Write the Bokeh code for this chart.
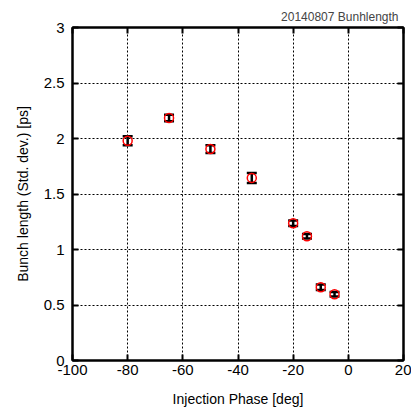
from bokeh.plotting import figure
from bokeh.models import ColumnDataSource, Whisker, LinearAxis, FixedTicker, Range1d
from bokeh.embed import file_html
from bokeh.resources import INLINE

phase = [-80, -65, -50, -35, -20, -15, -10, -5]
bunch_len = [1.98, 2.185, 1.905, 1.645, 1.236, 1.12, 0.66, 0.597]
bunch_err = [0.04, 0.03, 0.035, 0.045, 0.025, 0.02, 0.025, 0.02]
x_ticks = [-100, -80, -60, -40, -20, 0, 20]
x_labels = ["-100", "-80", "-60", "-40", "-20", "0", "20"]
y_ticks = [0, 0.5, 1, 1.5, 2, 2.5, 3]
y_labels = ["0", "0.5", "1", "1.5", "2", "2.5", "3"]

src = ColumnDataSource(dict(
    x=phase, y=bunch_len,
    lo=[v - e for v, e in zip(bunch_len, bunch_err)],
    hi=[v + e for v, e in zip(bunch_len, bunch_err)],
))

FONT = "Liberation Sans"

p = figure(width=411, height=412, output_backend="svg", toolbar_location=None,
           x_range=Range1d(-100, 20), y_range=Range1d(0, 3),
           min_border_left=72, min_border_right=8, min_border_top=27, min_border_bottom=52,
           title="20140807 Bunhlength")
p.title.align = "right"
p.title.text_font = FONT
p.title.text_font_size = "12px"
p.title.text_font_style = "normal"
p.title.standoff = 8
p.title.offset = 5

p.outline_line_color = "black"
p.outline_line_width = 2

for ax in (p.xaxis[0], p.yaxis[0]):
    ax.axis_line_width = 2
    ax.major_tick_in = 6
    ax.major_tick_out = 0
    ax.major_tick_line_width = 2
    ax.minor_tick_line_color = None
    ax.major_label_text_font = FONT
    ax.major_label_text_font_size = "15px"
    ax.major_label_text_color = "black"
    ax.axis_label_text_font = FONT
    ax.axis_label_text_font_size = "14px"
    ax.axis_label_text_font_style = "normal"
    ax.axis_label_text_color = "black"

p.xaxis[0].ticker = FixedTicker(ticks=x_ticks)
p.xaxis[0].major_label_overrides = {t: l for t, l in zip(x_ticks, x_labels)}
p.xaxis[0].axis_label = "Injection Phase [deg]"
p.xaxis[0].major_label_standoff = 4
p.xaxis[0].axis_label_standoff = 13
p.yaxis[0].ticker = FixedTicker(ticks=y_ticks)
p.yaxis[0].major_label_overrides = {t: l for t, l in zip(y_ticks, y_labels)}
p.yaxis[0].axis_label = "Bunch length (Std. dev.) [ps]"
p.yaxis[0].major_label_standoff = 8
p.yaxis[0].axis_label_standoff = 10

top = LinearAxis(ticker=FixedTicker(ticks=x_ticks),
                 major_label_overrides={t: "" for t in x_ticks},
                 major_tick_in=6, major_tick_out=0, major_tick_line_width=2,
                 minor_tick_line_color=None, axis_line_width=2, major_label_standoff=0)
right = LinearAxis(ticker=FixedTicker(ticks=y_ticks),
                   major_label_overrides={t: "" for t in y_ticks},
                   major_tick_in=6, major_tick_out=0, major_tick_line_width=2,
                   minor_tick_line_color=None, axis_line_width=2, major_label_standoff=0)
p.add_layout(top, "above")
p.add_layout(right, "right")

p.xgrid[0].ticker = FixedTicker(ticks=x_ticks)
p.ygrid[0].ticker = FixedTicker(ticks=y_ticks)
for g in (p.xgrid[0], p.ygrid[0]):
    g.grid_line_color = "black"
    g.grid_line_dash = "2 2"
    g.grid_line_width = 1

w = Whisker(source=src, base="x", lower="lo", upper="hi", dimension="height",
            line_color="black", line_width=2.5)
w.upper_head.size = 10
w.lower_head.size = 10
w.upper_head.line_width = 2.5
w.lower_head.line_width = 2.5
p.add_layout(w)

p.scatter("x", "y", source=src, size=9, marker="circle", fill_color=None,
          line_color="red", line_width=1.5)

open("out.html", "w").write(file_html(p, INLINE))
